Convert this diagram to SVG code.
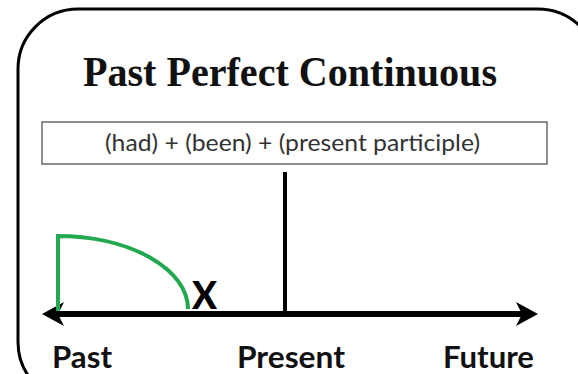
<svg xmlns="http://www.w3.org/2000/svg" width="578" height="374" viewBox="0 0 578 374">
  <style>
    .frame { fill: none; stroke: #000; stroke-width: 3; }
    .title { font-family: "Liberation Serif", "Times New Roman", serif; font-weight: bold; font-size: 42px; fill: #111; }
    .formula-box { fill: #fff; stroke: #6a6a6a; stroke-width: 1.5; }
    .formula { font-family: Lato, "Open Sans", sans-serif; font-size: 23px; fill: #333; }
    .label { font-family: Lato, "Open Sans", sans-serif; font-weight: bold; font-size: 30px; fill: #111; }
    .mark { font-family: Lato, "Open Sans", sans-serif; font-weight: 900; font-size: 37px; fill: #000; }
    .axis { stroke: #000; stroke-width: 6; fill: none; }
    .present { stroke: #000; stroke-width: 4; fill: none; }
    .action { stroke: #22a94f; stroke-width: 4; fill: none; }
  </style>
  <rect width="578" height="374" fill="#fff"/>
  <rect class="frame" x="18" y="9" width="580" height="393" rx="60" ry="60"/>
  <g id="title">
    <text class="title" x="83" y="86" textLength="414" lengthAdjust="spacingAndGlyphs">Past Perfect Continuous</text>
  </g>
  <g id="formula">
    <rect class="formula-box" x="42" y="122" width="505" height="42"/>
    <text class="formula" x="105" y="151" textLength="375" lengthAdjust="spacingAndGlyphs">(had) + (been) + (present participle)</text>
  </g>
  <g id="connectors">
    <line class="axis" x1="56" y1="314" x2="522" y2="314"/>
    <polygon points="42,314 64,302 58,314 64,326" fill="#000"/>
    <polygon points="538,314 516,302 522,314 516,326" fill="#000"/>
    <line class="present" x1="285" y1="172" x2="285" y2="314"/>
    <path class="action" d="M58,311 L58,236 A130,73 0 0 1 188,309"/>
  </g>
  <g id="x-mark">
    <text class="mark" x="192" y="309" textLength="25" lengthAdjust="spacingAndGlyphs">X</text>
  </g>
  <g id="past">
    <text class="label" x="52" y="368" textLength="60" lengthAdjust="spacingAndGlyphs">Past</text>
  </g>
  <g id="present">
    <text class="label" x="237" y="368" textLength="108" lengthAdjust="spacingAndGlyphs">Present</text>
  </g>
  <g id="future">
    <text class="label" x="443" y="368" textLength="91" lengthAdjust="spacingAndGlyphs">Future</text>
  </g>
</svg>
